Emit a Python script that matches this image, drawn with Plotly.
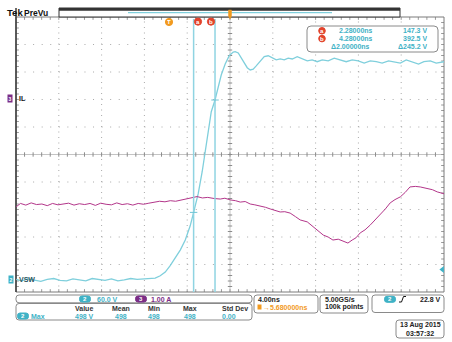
import plotly.graph_objects as go

# ---- acquisition data -------------------------------------------------
# Channel 2 (VSW), time in ns, volts
vsw_t = [-14.3, -13.8, -13.2, -12.6, -12.0, -11.4, -10.8, -10.2, -9.6, -9.0,
         -8.4, -7.8, -7.2, -6.6, -6.0, -5.4, -4.8, -4.2, -3.6, -3.0,
         -2.4, -1.8, -1.31, -0.84, -0.37, 0.09, 0.56, 1.03, 1.50, 1.96,
         2.28, 2.71, 3.08, 3.36, 3.64, 3.93, 4.28, 4.58, 4.86, 5.23,
         5.61, 5.98, 6.17, 6.45, 6.73, 7.01, 7.29, 7.57, 7.85, 8.13,
         8.50, 8.88, 9.25, 9.63, 10.0, 10.37, 10.75, 11.12, 11.50, 11.96,
         12.43, 12.9, 13.36, 13.83, 14.3, 14.86, 15.42, 15.98, 16.54, 17.1,
         17.66, 18.22, 18.79, 19.35, 19.9, 20.5, 21.0, 21.6, 22.15, 22.7,
         23.3, 23.8, 24.4, 24.95, 25.7]
vsw_v = [1, -2, 2, 0, -3, 1, 3, -1, -2, 2,
         0, -2, 3, 1, -1, 2, -2, 0, 3, 1,
         2, 4, 4, 9, 17, 31, 48, 65, 87, 118,
         147.3, 188, 236, 279, 325, 367, 392.5, 423, 447, 471,
         489, 497, 498, 495, 484, 473, 463, 458, 460, 467,
         478, 487, 489, 484, 480, 482, 480, 484, 482, 487,
         482, 478, 480, 476, 480, 478, 484, 480, 476, 480,
         478, 473, 478, 476, 473, 478, 476, 473, 480, 476,
         471, 476, 478, 473, 476]

# Channel 3 (IL), time in ns, amps
il_t = [-14.3, -13.9, -13.4, -12.9, -12.4, -11.9, -11.4, -10.9, -10.4, -9.9,
        -9.4, -8.9, -8.4, -7.9, -7.4, -6.9, -6.4, -5.9, -5.4, -4.9,
        -4.4, -3.9, -3.4, -2.9, -2.4, -1.9, -1.4, -0.9, -0.4, 0.1,
        0.6, 1.1, 1.6, 2.1, 2.6, 3.1, 3.6, 4.2, 4.77, 5.2,
        5.7, 6.2, 6.64, 7.1, 7.57, 8.0, 8.5, 9.0, 9.44, 9.9,
        10.37, 10.8, 11.3, 11.8, 12.24, 12.9, 13.46, 13.9, 14.4, 14.85,
        15.3, 15.8, 16.26, 16.7, 17.1, 17.45, 17.85, 18.3, 18.8, 19.25,
        19.7, 20.2, 20.65, 21.1, 21.6, 22.05, 22.5, 23.0, 23.46, 24.1,
        24.6, 25.05, 25.7]
il_a = [-3.92, -3.80, -3.86, -3.78, -3.84, -3.82, -3.88, -3.80, -3.85, -3.83,
        -3.79, -3.86, -3.81, -3.84, -3.80, -3.87, -3.79, -3.83, -3.85, -3.78,
        -3.84, -3.81, -3.86, -3.80, -3.83, -3.79, -3.76, -3.72, -3.74, -3.70,
        -3.72, -3.68, -3.62, -3.58, -3.55, -3.60, -3.58, -3.62, -3.64, -3.61,
        -3.67, -3.70, -3.75, -3.73, -3.82, -3.85, -3.89, -3.94, -4.00, -4.05,
        -4.11, -4.10, -4.15, -4.28, -4.40, -4.47, -4.65, -4.78, -4.95, -5.02,
        -5.13, -5.10, -5.16, -5.24, -5.13, -5.05, -4.87, -4.76, -4.58, -4.40,
        -4.22, -4.00, -3.78, -3.66, -3.56, -3.40, -3.20, -3.18, -3.20, -3.27,
        -3.30, -3.38, -3.45]

# Cursors and readouts
cursor_t = [2.28, 4.28]
cursor_v = [147.3, 392.5]
cursor_names = ["a", "b"]
h_pos_ns = 5.68
trig_level_v = 22.8
ns_per_div = 4.0
v_per_div = 60.0
a_per_div = 1.0

meas_headers = ["Value", "Mean", "Min", "Max", "Std Dev"]
meas_values = ["498 V", "498", "498", "498", "0.00"]

# ---- styling ----------------------------------------------------------
W, H = 452, 342
L, R, T, B = 16, 444, 17, 292
CH2 = "#7fcfdc"
CH2_TXT = "#3fb2c6"
CH3 = "#b3368a"
CH3_TXT = "#7b2d86"
RED = "#e2432c"
ORANGE = "#f29a1f"
FONT = "Liberation Sans"


def px(x):
    return (x - L) / (R - L)


def py(y):
    return (B - y) / (B - T)


def rrect(x0, y0, x1, y1, r=3):
    rx, ry = r / (R - L), r / (B - T)
    a0, a1 = px(x0), px(x1)
    b0, b1 = py(y0), py(y1)  # b0 top (higher), b1 bottom
    return (f"M {a0+rx},{b0} L {a1-rx},{b0} Q {a1},{b0} {a1},{b0-ry} "
            f"L {a1},{b1+ry} Q {a1},{b1} {a1-rx},{b1} L {a0+rx},{b1} "
            f"Q {a0},{b1} {a0},{b1+ry} L {a0},{b0-ry} Q {a0},{b0} {a0+rx},{b0} Z")


shapes = []
ann = []


def box(x0, y0, x1, y1, r=3, line="#8a8a8a", fill="white", width=1):
    shapes.append(dict(type="path", path=rrect(x0, y0, x1, y1, r), xref="paper", yref="paper",
                       line=dict(color=line, width=width), fillcolor=fill, layer="above"))


def text(x, y, s, color="#222", size=7, anchor="left", bold=True, height=None):
    a = dict(x=px(x), y=py(y), xref="paper", yref="paper", text=f"<b>{s}</b>" if bold else s,
             showarrow=False, xanchor=anchor, yanchor="middle", borderpad=0,
             font=dict(family=FONT, size=size, color=color))
    if height:
        a["height"] = height
    ann.append(a)


def pill(xc, yc, s, fill, w=11, h=6, size=6):
    box(xc - w / 2, yc - h / 2, xc + w / 2, yc + h / 2, r=2.5, line=fill, fill=fill)
    text(xc, yc, s, color="white", size=size, anchor="center", height=6)


def circle(xc, yc, s, fill, r=3.6):
    shapes.append(dict(type="circle", xref="paper", yref="paper",
                       x0=px(xc - r), x1=px(xc + r), y0=py(yc + r), y1=py(yc - r),
                       fillcolor=fill, line=dict(color=fill, width=1), layer="above"))
    text(xc, yc + 0.2, s, color="white", size=6, anchor="center", height=6)


# ---- graticule --------------------------------------------------------
grid_col = "#a9a9a9"
for i in range(1, 10):
    if i == 5:
        continue
    shapes.append(dict(type="line", xref="paper", yref="paper", x0=i / 10, x1=i / 10, y0=0, y1=1,
                       line=dict(color=grid_col, width=1, dash="1px,4.5px"), layer="below"))
    shapes.append(dict(type="line", xref="paper", yref="paper", x0=0, x1=1, y0=i / 10, y1=i / 10,
                       line=dict(color=grid_col, width=1, dash="1px,7.56px"), layer="below"))
shapes.append(dict(type="line", xref="paper", yref="paper", x0=0.5, x1=0.5, y0=0, y1=1,
                   line=dict(color="#c4c4c4", width=1), layer="below"))
shapes.append(dict(type="line", xref="paper", yref="paper", x0=0, x1=1, y0=0.5, y1=0.5,
                   line=dict(color="#c4c4c4", width=1), layer="below"))
tx = 2.2 / (R - L)
ty = 2.2 / (B - T)
for k in range(1, 50):
    f = k / 50
    # minor ticks on centre lines
    shapes.append(dict(type="line", xref="paper", yref="paper", x0=f, x1=f, y0=0.5 - ty, y1=0.5 + ty,
                       line=dict(color="#8c8c8c", width=1), layer="below"))
    shapes.append(dict(type="line", xref="paper", yref="paper", x0=0.5 - tx, x1=0.5 + tx, y0=f, y1=f,
                       line=dict(color="#8c8c8c", width=1), layer="below"))
    # minor ticks on the frame
    shapes.append(dict(type="line", xref="paper", yref="paper", x0=f, x1=f, y0=0, y1=ty * 1.3,
                       line=dict(color="#9a9a9a", width=1), layer="below"))
    shapes.append(dict(type="line", xref="paper", yref="paper", x0=f, x1=f, y0=1 - ty * 1.3, y1=1,
                       line=dict(color="#9a9a9a", width=1), layer="below"))
    shapes.append(dict(type="line", xref="paper", yref="paper", x0=0, x1=tx * 1.3, y0=f, y1=f,
                       line=dict(color="#9a9a9a", width=1), layer="below"))
    shapes.append(dict(type="line", xref="paper", yref="paper", x0=1 - tx * 1.3, x1=1, y0=f, y1=f,
                       line=dict(color="#9a9a9a", width=1), layer="below"))
shapes.append(dict(type="rect", xref="paper", yref="paper", x0=0, x1=1, y0=0, y1=1,
                   line=dict(color="#7a7a7a", width=1), layer="below"))
shapes.append(dict(type="line", xref="paper", yref="paper", x0=0, x1=0, y0=0, y1=py(8),
                   line=dict(color="#3a3a3a", width=1.5), layer="below"))

# ---- cursors ----------------------------------------------------------
for t, v in zip(cursor_t, cursor_v):
    shapes.append(dict(type="line", xref="x", yref="paper", x0=t, x1=t, y0=0, y1=py(19),
                       line=dict(color="#8fd4e2", width=1.5), layer="above"))
    shapes.append(dict(type="line", xref="x", yref="y", x0=t - 0.35, x1=t + 0.35, y0=v, y1=v,
                       line=dict(color="#6fc4d4", width=1), layer="above"))

# ---- record view bar and header -------------------------------------
shapes.append(dict(type="rect", xref="paper", yref="paper", x0=px(59), x1=px(400), y0=py(17), y1=py(8),
                   line=dict(color="#333", width=1), fillcolor="white", layer="above"))
shapes.append(dict(type="rect", xref="paper", yref="paper", x0=px(59), x1=px(400), y0=py(10.8), y1=py(8),
                   line=dict(width=0), fillcolor="#333", layer="above"))
shapes.append(dict(type="line", xref="paper", yref="paper", x0=px(128), x1=px(332), y0=py(12.6), y1=py(12.6),
                   line=dict(color=CH2, width=1.2), layer="above"))
shapes.append(dict(type="path", xref="paper", yref="paper",
                   path=f"M {px(228.5)},{py(10)} L {px(231.5)},{py(10)} L {px(231.5)},{py(16)} "
                        f"L {px(230)},{py(19)} L {px(228.5)},{py(16)} Z",
                   fillcolor=ORANGE, line=dict(color=ORANGE, width=0.5), layer="above"))
text(6, 13, "Tek", color="#111", size=9.5)
text(23, 13.3, "PreVu", color="#111", size=8.5)

circle(169, 22, "T", ORANGE)
circle(198, 21.6, "a", RED)
circle(211, 21.6, "b", RED)

# ---- cursor readout --------------------------------------------------
box(307, 26, 438, 52, r=4)
rows = [30.8, 38.6]
for name, t, v, yy in zip(cursor_names, cursor_t, cursor_v, rows):
    circle(322, yy, name, RED, r=3.3)
    text(338, yy, f"{t:.5f}ns", color=CH2_TXT, size=7, height=7)
    text(428, yy, f"{v:.1f} V", color=CH2_TXT, size=7, anchor="right", height=7)
text(330, 46.4, f"Δ{cursor_t[1] - cursor_t[0]:.5f}ns", color=CH2_TXT, size=7, height=7)
text(428, 46.4, f"Δ{cursor_v[1] - cursor_v[0]:.1f} V", color=CH2_TXT, size=7, anchor="right", height=7)

# ---- channel ground markers ------------------------------------------
ann.append(dict(x=px(10), y=0, xref="paper", yref="y2", text="<b>3</b>", showarrow=False,
                bgcolor=CH3_TXT, font=dict(family=FONT, size=5, color="white"), borderpad=0.5,
                xanchor="center", yanchor="middle"))
ann.append(dict(x=px(17), y=0, xref="paper", yref="y2", text="<b>IL</b>", showarrow=False,
                font=dict(family=FONT, size=7, color="#111"), xanchor="left", yanchor="middle"))
ann.append(dict(x=px(10.5), y=0, xref="paper", yref="y", text="<b>2</b>", showarrow=False,
                bgcolor=CH2_TXT, font=dict(family=FONT, size=5, color="white"), borderpad=0.5,
                xanchor="center", yanchor="middle"))
ann.append(dict(x=px(16.5), y=0, xref="paper", yref="y", text="<b>VSW</b>", showarrow=False,
                font=dict(family=FONT, size=7, color="#2a5560"), xanchor="left", yanchor="middle"))

# ---- bottom status panels -------------------------------------------
box(16, 295, 252, 302.8, r=3)
pill(85, 299, "2", CH2_TXT)
text(96, 299, f"{v_per_div:.1f} V", color=CH2_TXT, size=7)
pill(141, 299, "3", CH3_TXT)
text(150, 299, f"{a_per_div:.2f} A", color=CH3_TXT, size=7)

box(16, 303.5, 252, 320, r=3)
cols = [84, 121, 153.5, 189.5, 235]
for c, h, v in zip(cols, meas_headers, meas_values):
    text(c, 308.3, h, color="#333", size=7, anchor="center")
    text(c - (6 if h == "Std Dev" else 0), 316, v, color=CH2_TXT, size=7, anchor="center")
pill(23, 316, "2", CH2_TXT)
text(29.5, 316, "Max", color=CH2_TXT, size=7)

box(254, 295, 318, 313, r=3)
text(257, 299.5, f"{ns_per_div:.2f}ns", color="#222", size=7)
shapes.append(dict(type="rect", xref="paper", yref="paper", x0=px(257.5), x1=px(261.5), y0=py(309.5),
                   y1=py(304.5), fillcolor=ORANGE, line=dict(width=0), layer="above"))
text(261.5, 307.3, f"→{h_pos_ns:.6f}ns", color=ORANGE, size=7)

box(320, 295, 368, 313, r=3)
text(323.5, 299.5, "5.00GS/s", color="#222", size=7)
text(323.5, 307.3, "100k points", color="#222", size=7)

box(372, 295, 444, 312.5, r=3)
pill(390, 299.3, "2", CH2_TXT)
shapes.append(dict(type="path", xref="paper", yref="paper",
                   path=f"M {px(399)},{py(302)} L {px(401.5)},{py(302)} L {px(403.5)},{py(296.5)} "
                        f"L {px(406)},{py(296.5)}",
                   line=dict(color="#111", width=1), layer="above"))
text(442, 299.5, f"{trig_level_v:.1f} V", color="#222", size=7, anchor="right")

box(396, 320, 444, 338, r=3)
text(420, 325, "13 Aug 2015", color="#222", size=7, anchor="center")
text(420, 333, "03:57:32", color="#222", size=7, anchor="center")

# ---- traces ------------------------------------------------------------
fig = go.Figure()
fig.add_trace(go.Scatter(x=il_t, y=il_a, yaxis="y2", mode="lines",
                         line=dict(color=CH3, width=1), hoverinfo="skip"))
fig.add_trace(go.Scatter(x=vsw_t, y=vsw_v, mode="lines",
                         line=dict(color=CH2, width=1.3), hoverinfo="skip"))
# trigger level marker on the right edge
fig.add_trace(go.Scatter(x=[h_pos_ns + 5 * ns_per_div - 0.15], y=[trig_level_v], mode="markers",
                         marker=dict(symbol="triangle-left", size=6, color=CH2_TXT),
                         cliponaxis=False, hoverinfo="skip"))

x_lo = h_pos_ns - 5 * ns_per_div
v_lo = -0.44 * v_per_div
a_lo = -7.02 * a_per_div
fig.update_layout(
    width=W, height=H,
    margin=dict(l=L, r=W - R, t=T, b=H - B, pad=0),
    paper_bgcolor="white", plot_bgcolor="white",
    showlegend=False,
    xaxis=dict(range=[x_lo, x_lo + 10 * ns_per_div], showgrid=False, zeroline=False,
               showticklabels=False, ticks="", fixedrange=True),
    yaxis=dict(range=[v_lo, v_lo + 10 * v_per_div], showgrid=False, zeroline=False,
               showticklabels=False, ticks="", fixedrange=True),
    yaxis2=dict(range=[a_lo, a_lo + 10 * a_per_div], overlaying="y", showgrid=False, zeroline=False,
                showticklabels=False, ticks="", fixedrange=True),
    shapes=shapes,
    annotations=ann,
)

fig.write_html("out.html")
